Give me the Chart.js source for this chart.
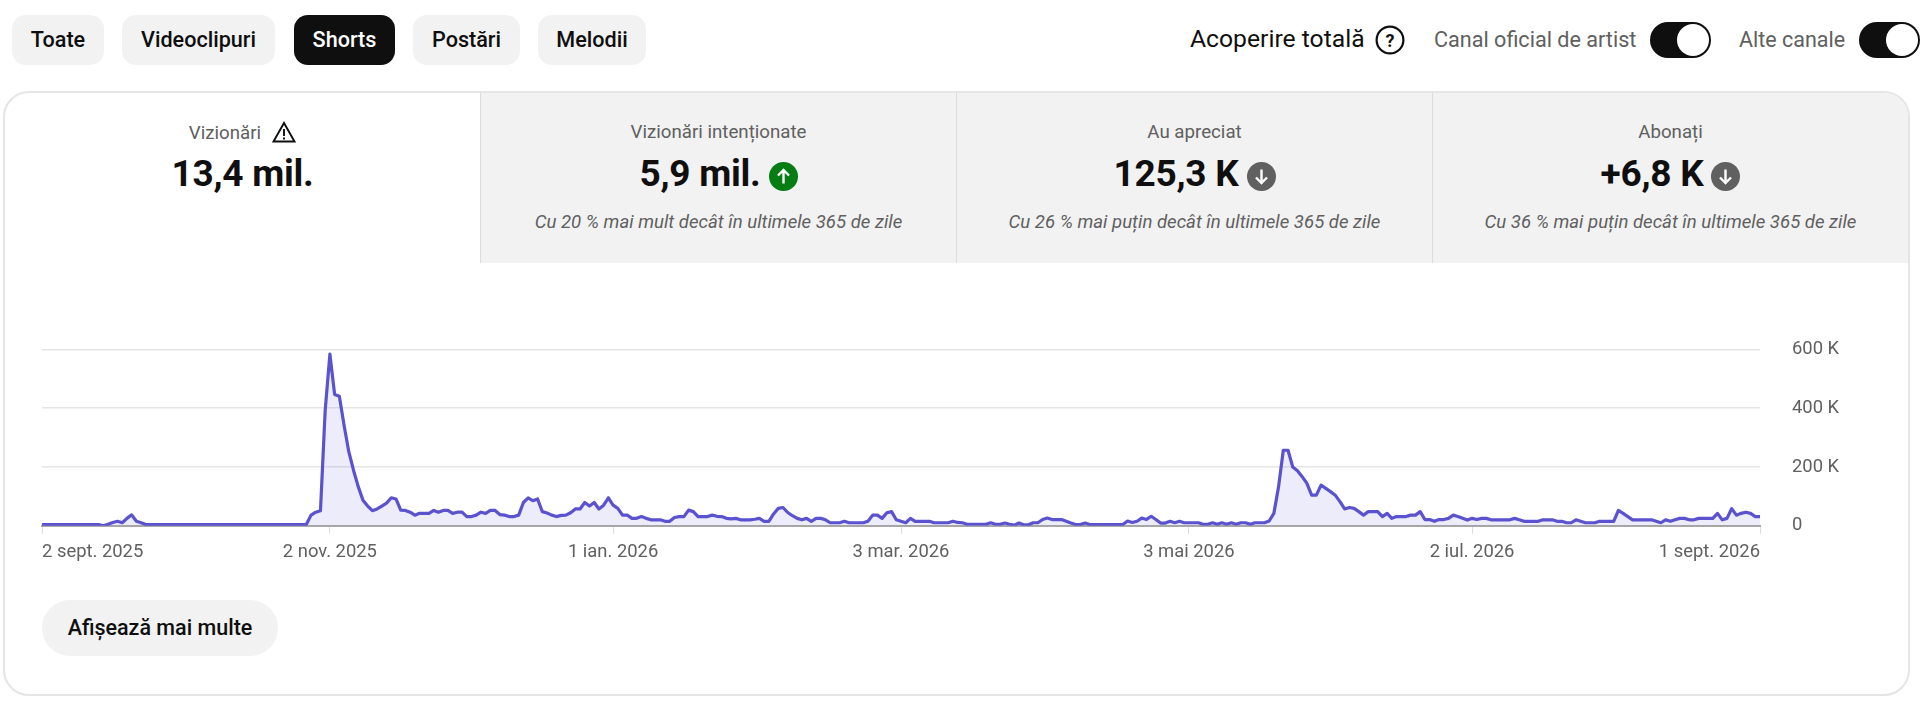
<!DOCTYPE html>
<html lang="ro"><head><meta charset="utf-8">
<script src="https://cdn.jsdelivr.net/npm/chart.js@4/dist/chart.umd.min.js"></script>
<style>
html,body{margin:0;padding:0;width:1920px;height:704px;overflow:hidden;background:#fff;font-family:Roboto,sans-serif;color:#0f0f0f}
.a{position:absolute;white-space:nowrap}
.chip{top:15px;height:50px;line-height:50px;border-radius:14px;background:#f2f2f2;text-align:center;font-size:21.6px;font-weight:500}
.chip.on{background:#0f0f0f;color:#fff}
.tog{width:61px;height:36px;top:22px;border-radius:18px;background:#0f0f0f}
.tog i{position:absolute;left:27px;top:2px;width:32px;height:32px;border-radius:50%;background:#fff}
#card{left:3px;top:91px;width:1903px;height:601px;border:2px solid #e5e5e5;border-radius:26px;overflow:hidden;box-sizing:content-box}
.tab{top:0;height:170px;background:#f2f2f2;border-left:1px solid #dcdcdc;box-sizing:border-box}
.lab{font-size:18.7px;color:#606060;left:0;right:0;top:27.5px;text-align:center}
.val{font-size:37px;font-weight:700;left:0;right:0;top:58px;text-align:center;line-height:46px;letter-spacing:-.25px}
.sub{font-size:18.6px;font-style:italic;color:#606060;left:0;right:0;top:118px;text-align:center}
.ic{display:inline-block;vertical-align:-5px;margin-left:8px}
#btn{left:42px;top:600px;width:236px;height:56px;line-height:56px;border-radius:28px;background:#f2f2f2;text-align:center;font-size:21.5px;font-weight:500}
#wrap{left:0;top:320px;width:1920px;height:246px}
#c{display:block;width:1920px;height:246px}
</style></head><body>
<div class="a chip" style="left:12px;width:92px">Toate</div>
<div class="a chip" style="left:122px;width:153px">Videoclipuri</div>
<div class="a chip on" style="left:294px;width:101px">Shorts</div>
<div class="a chip" style="left:413px;width:107px">Postări</div>
<div class="a chip" style="left:538px;width:108px">Melodii</div>
<div class="a" style="left:1190px;top:24px;font-size:24.7px;line-height:30px">Acoperire totală</div>
<svg class="a" style="left:1375px;top:25px" width="30" height="30" viewBox="0 0 30 30"><circle cx="15" cy="15" r="13.4" fill="none" stroke="#0f0f0f" stroke-width="2.2"/><text x="15" y="21.5" text-anchor="middle" font-family="Roboto" font-weight="700" font-size="18" fill="#0f0f0f">?</text></svg>
<div class="a" style="left:1434px;top:25px;font-size:21.6px;line-height:30px;color:#606060">Canal oficial de artist</div>
<div class="a tog" style="left:1650px"><i></i></div>
<div class="a" style="left:1739px;top:25px;font-size:21.5px;line-height:30px;color:#606060">Alte canale</div>
<div class="a tog" style="left:1859px"><i></i></div>
<div class="a" id="card">
  <div class="a" style="left:0;width:475px;top:0;height:170px">
    <div class="a lab">Vizionări<svg class="ic" style="vertical-align:-4px;margin-left:11px" width="24" height="22" viewBox="0 0 24 22"><path d="M12 2 L22.5 20.5 H1.5 Z" fill="none" stroke="#0f0f0f" stroke-width="1.9" stroke-linejoin="miter"/><path d="M12 8v7M12 16.5v2" stroke="#0f0f0f" stroke-width="1.9"/></svg></div>
    <div class="a val">13,4 mil.</div>
  </div>
  <div class="a tab" style="left:475px;width:476px">
    <div class="a lab">Vizionări intenționate</div>
    <div class="a val">5,9 mil.<svg class="ic" width="29" height="29" viewBox="0 0 29 29"><circle cx="14.5" cy="14.5" r="14.5" fill="#067d14"/><path d="M14.5 21.5V8M9 13.5l5.5-5.5 5.5 5.5" fill="none" stroke="#fff" stroke-width="2.4"/></svg></div>
    <div class="a sub">Cu 20 % mai mult decât în ultimele 365 de zile</div>
  </div>
  <div class="a tab" style="left:951px;width:476px">
    <div class="a lab">Au apreciat</div>
    <div class="a val">125,3 K<svg class="ic" width="29" height="29" viewBox="0 0 29 29"><circle cx="14.5" cy="14.5" r="14.5" fill="#606060"/><path d="M14.5 7.5V21M9 15.5l5.5 5.5 5.5-5.5" fill="none" stroke="#fff" stroke-width="2.4"/></svg></div>
    <div class="a sub">Cu 26 % mai puțin decât în ultimele 365 de zile</div>
  </div>
  <div class="a tab" style="left:1427px;width:476px">
    <div class="a lab">Abonați</div>
    <div class="a val">+6,8 K<svg class="ic" width="29" height="29" viewBox="0 0 29 29"><circle cx="14.5" cy="14.5" r="14.5" fill="#606060"/><path d="M14.5 7.5V21M9 15.5l5.5 5.5 5.5-5.5" fill="none" stroke="#fff" stroke-width="2.4"/></svg></div>
    <div class="a sub">Cu 36 % mai puțin decât în ultimele 365 de zile</div>
  </div>
</div>
<div class="a" id="wrap"><canvas id="c" width="1920" height="246"></canvas></div>
<div class="a" id="btn">Afișează mai multe</div>
<script>
const seriesName = "Vizionări";
const viewsThousands = [
4,4,4,4,4,4,4,4,4,4,
4,4,4,0,5,11,15,10,25,37,
15,10,4,4,4,4,4,4,4,4,
4,4,4,4,4,4,4,4,4,4,
4,4,4,4,4,4,4,4,4,4,
4,4,4,4,4,4,4,36,46,51,
393,584,447,441,342,252,189,133,87,67,
51,57,67,77,95,91,53,52,46,36,
42,42,42,52,46,52,52,42,46,46,
31,31,36,46,42,52,52,
38,36,31,31,36,79,95,85,91,48,
43,36,31,35,36,44,57,57,79,67,
79,57,70,95,70,59,36,36,25,25,
31,25,20,20,20,15,15,28,31,31,
53,48,31,31,31,36,32,31,25,23,
25,20,20,20,22,25,15,15,40,59,
62,45,34,25,20,25,15,25,25,20,
10,10,10,15,10,10,10,10,15,36,
36,25,44,48,20,15,10,25,15,15,
15,15,10,10,10,10,15,11,10,5,
5,5,5,5,10,5,
5,9,5,2,9,3,3,10,10,21,
26,21,21,21,15,9,4,4,9,4,
4,4,4,4,4,4,4,16,11,15,
26,21,32,21,9,9,15,10,15,10,
10,10,10,5,5,10,5,10,5,10,
5,10,10,5,10,10,10,16,42,133,
257,257,200,187,167,144,104,104,138,127,
116,104,82,57,62,59,48,36,48,48,
48,31,42,25,31,31,31,36,36,48,
21,21,15,21,21,25,36,31,
25,19,25,21,25,25,20,20,20,20,
20,25,20,15,15,15,15,20,20,20,
15,15,10,10,20,15,10,10,10,15,
15,15,15,52,42,31,20,20,20,20,
20,15,10,20,15,20,25,25,20,20,
25,25,25,25,42,20,25,58,36,42,
46,42,31,31
];
const dayIndex = viewsThousands.map((v, i) => i);
const tickDays = [0, 61, 121, 182, 243, 303, 364];
const tickLabels = ["2 sept. 2025", "2 nov. 2025", "1 ian. 2026", "3 mar. 2026", "3 mai 2026", "2 iul. 2026", "1 sept. 2026"];
const yTicks = [0, 200, 400, 600];
const FONT = {family: "Roboto", size: 18.4};
new Chart(document.getElementById("c"), {
  type: "line",
  data: {labels: dayIndex, datasets: [{
    label: seriesName, data: viewsThousands, borderColor: "#5a52cf", borderWidth: 3.2,
    backgroundColor: "rgba(90,82,207,0.11)", fill: "origin", pointRadius: 0, tension: 0, borderJoinStyle: "round"
  }]},
  options: {
    responsive: false, animation: false, devicePixelRatio: 1,
    layout: {padding: {left: 42, top: 29.5, right: 0, bottom: 0}},
    plugins: {legend: {display: false}, tooltip: {enabled: false}},
    scales: {
      x: {
        grid: {drawOnChartArea: false, drawTicks: true, tickLength: 8, tickColor: "#dcdcdc"},
        border: {color: "#a8a8a8", width: 2},
        afterBuildTicks: s => { s.ticks = tickDays.map(v => ({value: v})); },
        afterFit: s => { s.height = 40.3; },
        ticks: {autoSkip: false, maxRotation: 0, align: "inner", padding: 8, color: "#606060", font: FONT,
          callback: v => tickLabels[tickDays.indexOf(v)] }
      },
      y: {
        position: "right", min: 0, max: 600,
        afterBuildTicks: s => { s.ticks = yTicks.map(v => ({value: v})); },
        afterFit: s => { s.width = 160; },
        grid: {color: "#e5e5e5", lineWidth: 1.5, drawTicks: true, tickLength: 32, tickColor: "transparent"},
        border: {display: false},
        ticks: {padding: 0, crossAlign: "near", color: "#606060", font: FONT,
          callback: v => v === 0 ? "0" : v + " K"}
      }
    }
  }
});
</script>
</body></html>
